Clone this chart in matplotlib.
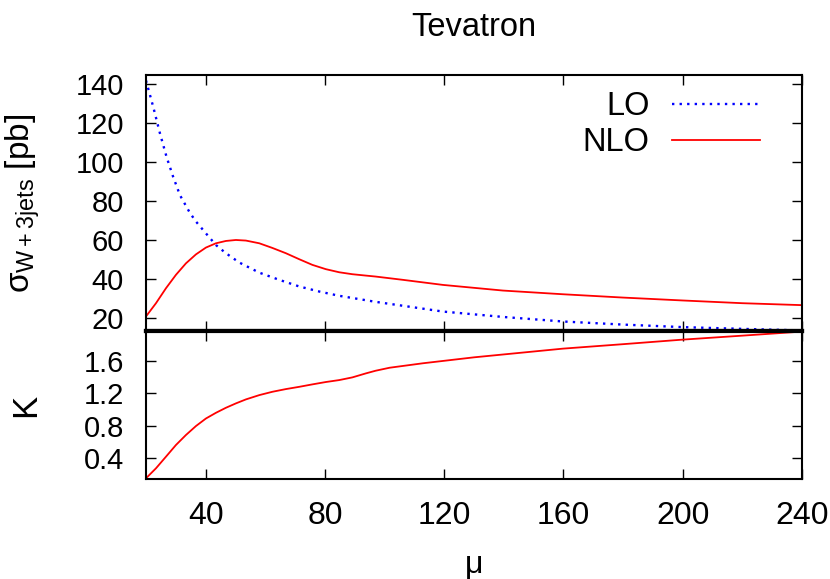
import numpy as np
import matplotlib
matplotlib.use('Agg')
import matplotlib.pyplot as plt

plt.rcParams['font.family'] = ['Liberation Sans', 'DejaVu Sans']
plt.rcParams['mathtext.fontset'] = 'custom'
plt.rcParams['mathtext.rm'] = 'Liberation Sans'
plt.rcParams['mathtext.it'] = 'Liberation Sans:italic'

# LO cross section (mu, sigma in pb)
lo_mu = [20, 22.5, 24.7, 26.9, 29.1, 31.4, 34.7, 36.75, 40.1, 43.45, 46.8, 51.3,
         58, 64.7, 71.4, 78.1, 84.8, 91.5, 97, 119.6, 140, 159.8, 180, 200, 220, 240]
lo_sigma = [142, 128, 114.7, 102.7, 92.5, 83, 74, 69.5, 63.4, 57.4, 53.2, 48.4,
            43.2, 39.5, 36.1, 33.5, 31.3, 29.6, 28.2, 23.2, 20.4, 18.1, 16.5, 15.2,
            14.3, 13.5]

# NLO cross section
nlo_mu = [20, 23.35, 26.7, 30.05, 33.4, 36.75, 40.1, 43.45, 46.8, 50.15, 53.5, 58,
          62.4, 66.9, 71.4, 75.8, 80.3, 84.8, 89.2, 93.7, 97, 106.2, 119.6, 139.7,
          159.8, 179.9, 200, 220, 240]
nlo_sigma = [20.7, 27.5, 35.2, 42.1, 48.0, 52.6, 56.1, 58.3, 59.5, 60.0, 59.7, 58.3,
             55.9, 53.2, 50.1, 47.2, 45.0, 43.4, 42.4, 41.7, 41.2, 39.5, 36.9, 34.0,
             32.1, 30.4, 28.9, 27.5, 26.5]

# K factor, lower panel
k_mu = [20, 23.35, 26.7, 30.05, 33.4, 36.75, 40.1, 43.45, 46.8, 50.15, 53.5, 58,
        62.4, 66.9, 71.4, 75.8, 80.3, 84.8, 89.2, 93.7, 97, 101.7, 112.9, 130,
        159.8, 180, 199.6, 220, 240]
k_val = [0.154, 0.277, 0.42, 0.564, 0.687, 0.797, 0.89, 0.96, 1.022, 1.076, 1.125,
         1.178, 1.219, 1.252, 1.28, 1.31, 1.339, 1.363, 1.396, 1.445, 1.478, 1.515,
         1.57, 1.643, 1.75, 1.805, 1.86, 1.91, 1.96]

x_ticks = [40, 80, 120, 160, 200, 240]
sigma_ticks = [20, 40, 60, 80, 100, 120, 140]
k_ticks = [0.4, 0.8, 1.2, 1.6]


def style_axis(ax):
    ax.tick_params(direction='in', top=True, right=True, length=7, width=1.0)
    ax.tick_params(axis='y', labelsize=21, pad=16)
    ax.tick_params(axis='x', labelsize=23, pad=15.5)
    for s in ax.spines.values():
        s.set_linewidth(1.5)


fig = plt.figure(figsize=(8.3, 5.79), dpi=100)
ax1 = fig.add_axes([0.1759, 0.4283, 0.7904, 0.4421])
ax2 = fig.add_axes([0.1759, 0.1727, 0.7904, 0.2556])

# upper panel
ax1.plot(lo_mu, lo_sigma, color='#0000ff', linestyle=(0, (1, 2.2)), linewidth=1.7,
         label='LO')
ax1.plot(nlo_mu, nlo_sigma, color='#ff0000', linewidth=1.3, label='NLO')
ax1.set_xlim(20, 240)
ax1.set_ylim(13.2, 144.8)
ax1.set_xticks(x_ticks)
ax1.set_xticklabels([])
ax1.set_yticks(sigma_ticks)
style_axis(ax1)
ax1.spines['bottom'].set_linewidth(3)
ax1.set_ylabel(r'$\mathrm{\sigma}_{\mathrm{W+3jets}}$ [pb]', fontsize=24)
ax1.yaxis.set_label_coords(-0.158, 0.5)
ax1.set_title('Tevatron', fontsize=23.5, pad=28)
ax1.legend(loc='upper right', frameon=False, markerfirst=False, fontsize=23.5,
           handlelength=2.67, handletextpad=0.7, labelspacing=0.15,
           borderaxespad=0.3, bbox_to_anchor=(0.97, 1.025))

# lower panel
ax2.plot(k_mu, k_val, color='#ff0000', linewidth=1.3)
ax2.set_xlim(20, 240)
ax2.set_ylim(0.145, 1.967)
ax2.set_xticks(x_ticks)
ax2.set_yticks(k_ticks)
style_axis(ax2)
ax2.spines['top'].set_linewidth(3)
ax2.set_ylabel('K', fontsize=25)
ax2.yaxis.set_label_coords(-0.158, 0.5)
ax2.set_xlabel('μ', fontsize=23, labelpad=14)

fig.savefig('out.png', dpi=100)
